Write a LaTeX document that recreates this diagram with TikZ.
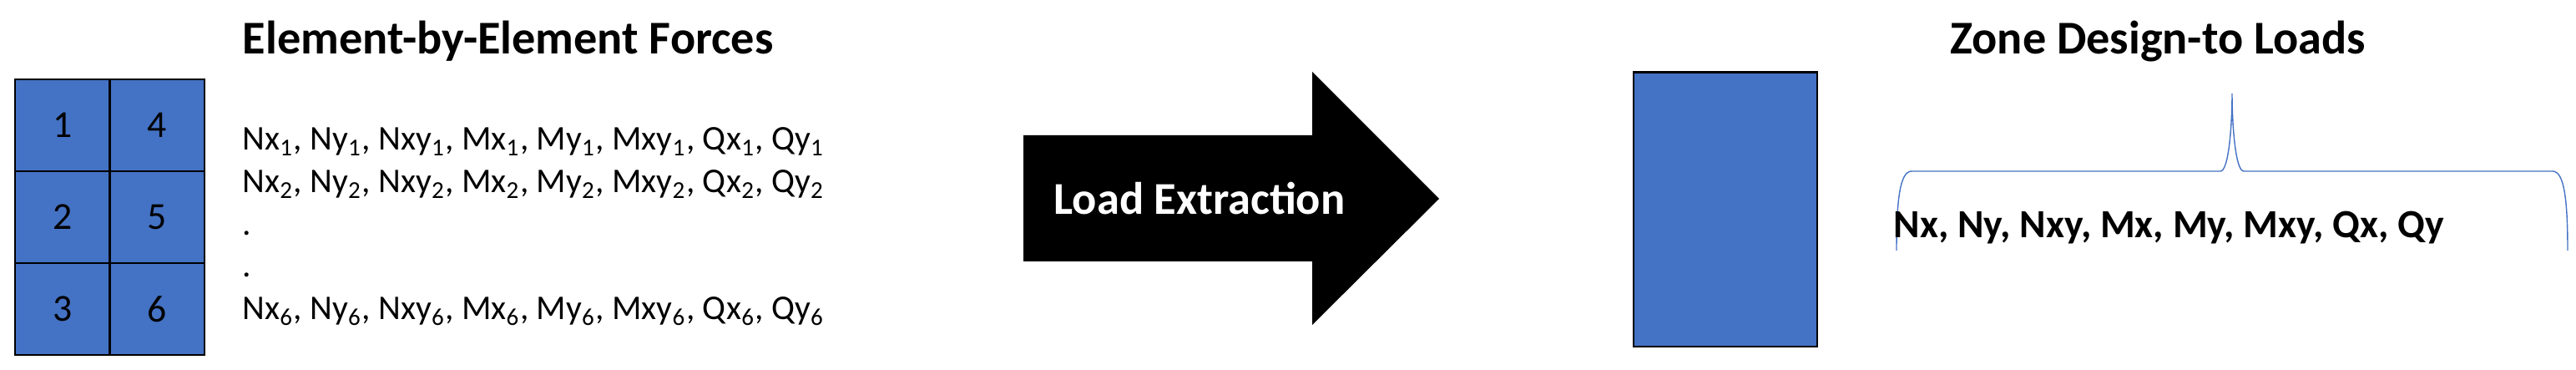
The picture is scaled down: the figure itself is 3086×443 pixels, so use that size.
\documentclass[tikz,border=0pt]{standalone}
\usepackage{fontspec}
\setmainfont{Carlito}
\definecolor{zoneblue}{HTML}{4472C4}

\newcommand{\forcerow}[1]{Nx\textsubscript{#1}, Ny\textsubscript{#1}, Nxy\textsubscript{#1}, Mx\textsubscript{#1}, My\textsubscript{#1}, Mxy\textsubscript{#1}, Qx\textsubscript{#1}, Qy\textsubscript{#1}}

\tikzset{
    cell/.style={draw, line width=0.8pt, fill=zoneblue, minimum width=1.135cm, minimum height=1.1cm, inner sep=0pt, font=\fontsize{13}{15}\selectfont},
    heading/.style={inner sep=0pt, font=\fontsize{16}{19}\selectfont\bfseries},
    row/.style={inner sep=0pt, anchor=base west, font=\fontsize{11.8}{14}\selectfont},
}

\begin{document}
\begin{tikzpicture}[x=0.01cm, y=-0.01cm]
    \useasboundingbox (0,0) rectangle (3086,443);

    % Elementos
    \foreach \n/\c/\r in {1/0/0,2/0/1,3/0/2,4/1/0,5/1/1,6/1/2} {
        \node[cell] (e\n) at (74.75+113.5*\c, 150+110*\r) {\n};
    }

    % Fuerzas por elemento
    \node[heading, anchor=base west] (forces) at (290,65) {Element-by-Element Forces};
    \node[row] (r1) at (290,180) {\forcerow{1}};
    \node[row] (r2) at (290,231) {\forcerow{2}};
    \node[row] (d1) at (290,282) {.};
    \node[row] (d2) at (290,332) {.};
    \node[row] (r6) at (290,383) {\forcerow{6}};

    % Flecha
    \fill (1226,162) -- (1572,162) -- (1572,86) -- (1724,238) -- (1572,389) -- (1572,313) -- (1226,313) -- cycle;
    \node[heading, white, anchor=base, font=\fontsize{15.5}{18}\selectfont\bfseries] (extract) at (1437,257) {Load Extraction};

    % Zona
    \node[draw, line width=0.8pt, fill=zoneblue, minimum width=2.2cm, minimum height=3.28cm] (zone) at (2067,251) {};
    \node[heading, anchor=base] (zonetitle) at (2585,65) {Zone Design-to Loads};

    % Llave
    \draw[zoneblue, line width=0.4pt] (2272,300) .. controls (2272,240) and (2276,205) .. (2290,205) -- (2660,205)
        .. controls (2670,205) and (2674,150) .. (2674,112)
        .. controls (2674,150) and (2678,205) .. (2688,205) -- (3058,205)
        .. controls (3072,205) and (3076,240) .. (3076,300);
    \node[row, font=\fontsize{13.6}{16}\selectfont\bfseries] (loads) at (2268,285) {Nx, Ny, Nxy, Mx, My, Mxy, Qx, Qy};
\end{tikzpicture}
\end{document}
